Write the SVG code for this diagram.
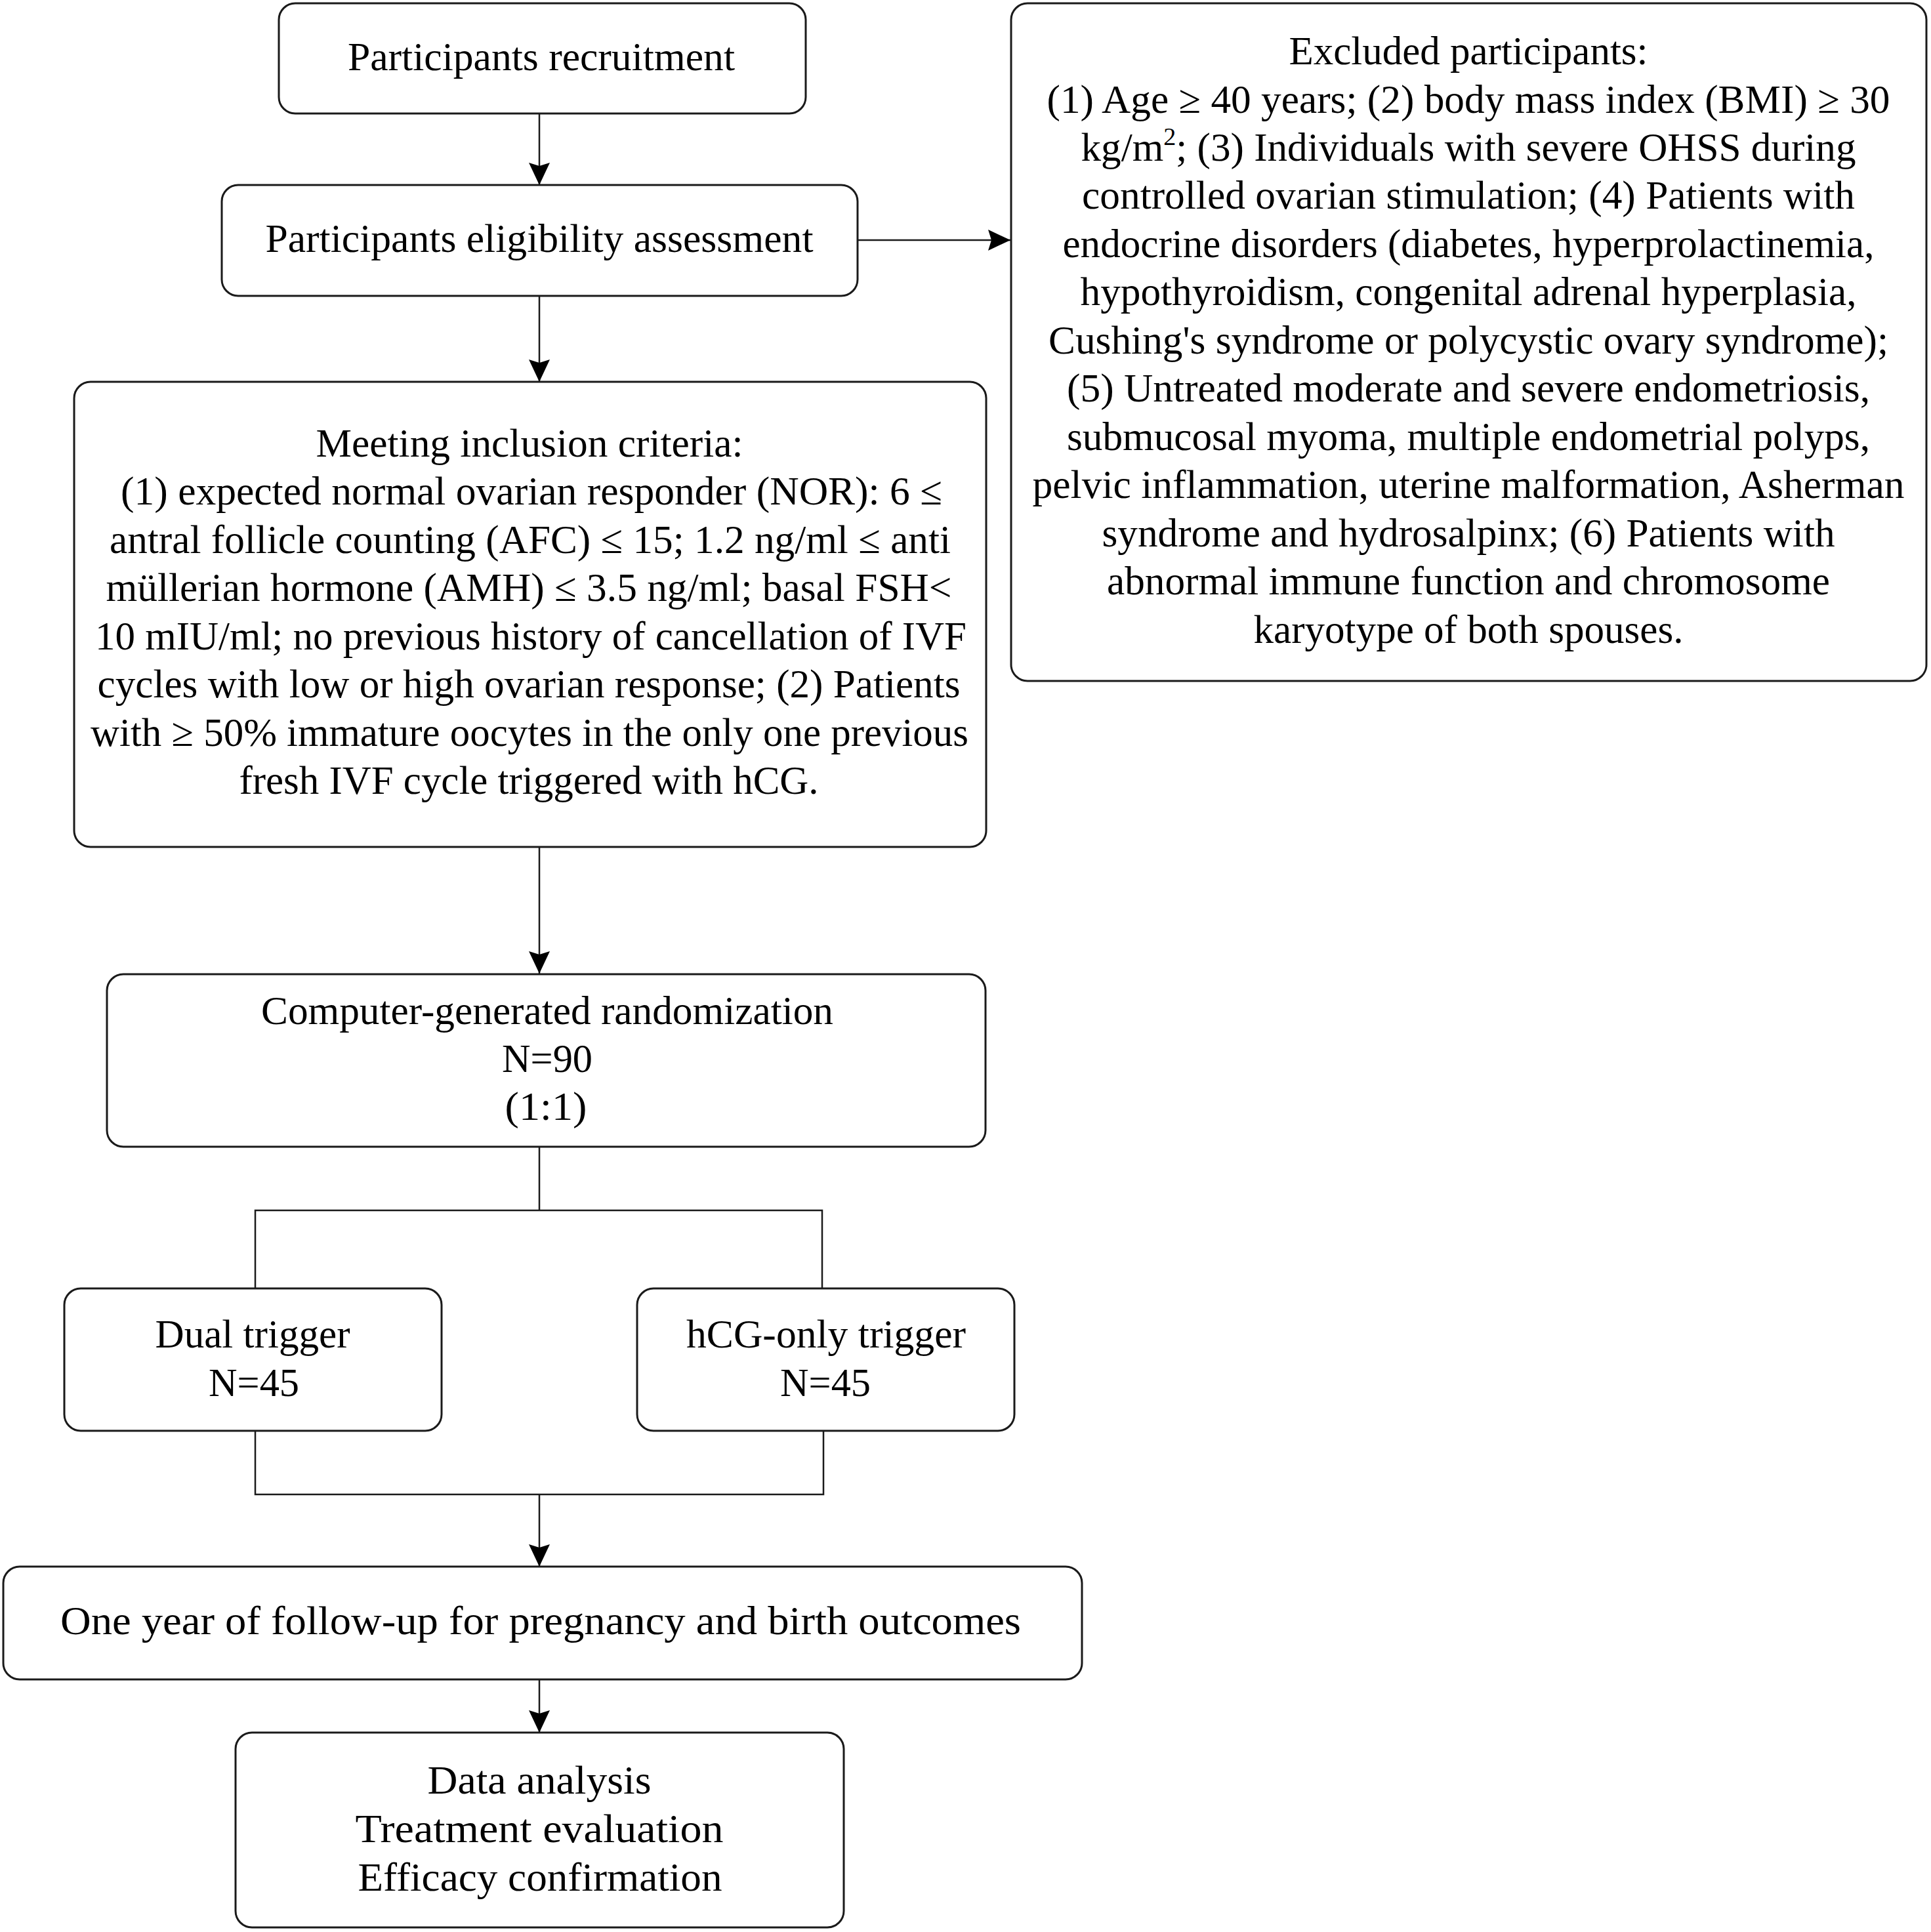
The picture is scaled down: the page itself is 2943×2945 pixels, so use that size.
<svg xmlns="http://www.w3.org/2000/svg" width="2943" height="2945" viewBox="0 0 2943 2945">
<style>
.box{fill:#fff;stroke:#1a1a1a;stroke-width:3}
.ln{fill:none;stroke:#1a1a1a;stroke-width:2.5}
text{font-family:"Liberation Serif","Times New Roman",serif;font-size:61px;fill:#000;text-anchor:middle}
.c{font-family:"Liberation Serif","DejaVu Serif",serif}
</style>
<defs>
<marker id="arr" markerUnits="userSpaceOnUse" viewBox="0 0 34 32" refX="34" refY="16" markerWidth="34" markerHeight="32" orient="auto">
<path d="M0,0 L34,16 L0,32 L5,16 Z" fill="#000"/>
</marker>
</defs>
<rect width="2943" height="2945" fill="#fff"/>
<g id="connectors">
<line class="ln" x1="822" y1="173" x2="822" y2="282" marker-end="url(#arr)"/>
<line class="ln" x1="1307" y1="366" x2="1540" y2="366" marker-end="url(#arr)"/>
<line class="ln" x1="822" y1="451" x2="822" y2="582" marker-end="url(#arr)"/>
<line class="ln" x1="822" y1="1291" x2="822" y2="1484" marker-end="url(#arr)"/>
<polyline class="ln" points="822,1748 822,1845"/>
<polyline class="ln" points="389,1964 389,1845 1253,1845 1253,1964"/>
<polyline class="ln" points="389,2181 389,2278 1255,2278 1255,2181"/>
<line class="ln" x1="822" y1="2278" x2="822" y2="2388" marker-end="url(#arr)"/>
<line class="ln" x1="822" y1="2560" x2="822" y2="2641" marker-end="url(#arr)"/>
</g>
<g id="recruitment">
<rect class="box" x="425" y="5" width="803" height="168" rx="25"/>
<text x="825" y="107" textLength="590" lengthAdjust="spacingAndGlyphs">Participants recruitment</text>
</g>
<g id="eligibility">
<rect class="box" x="338" y="282" width="969" height="169" rx="25"/>
<text x="822" y="384" textLength="835" lengthAdjust="spacingAndGlyphs">Participants eligibility assessment</text>
</g>
<g id="excluded">
<rect class="box" x="1541" y="5" width="1395" height="1033" rx="25"/>
<text x="2238" y="98" textLength="547" lengthAdjust="spacingAndGlyphs">Excluded participants:</text>
<text x="2238" y="172" textLength="1285" lengthAdjust="spacingAndGlyphs">(1) Age ≥ 40 years; (2) body mass index (BMI) ≥ 30</text>
<text x="2238" y="245" textLength="1181" lengthAdjust="spacingAndGlyphs">kg/m<tspan font-size="38" dy="-24">2</tspan><tspan dy="24">; (3) Individuals with severe OHSS during</tspan></text>
<text x="2238" y="318" textLength="1178" lengthAdjust="spacingAndGlyphs">controlled ovarian stimulation; (4) Patients with</text>
<text x="2238" y="392" textLength="1237" lengthAdjust="spacingAndGlyphs">endocrine disorders (diabetes, hyperprolactinemia,</text>
<text x="2238" y="465" textLength="1183" lengthAdjust="spacingAndGlyphs">hypothyroidism, congenital adrenal hyperplasia,</text>
<text x="2238" y="539" textLength="1280" lengthAdjust="spacingAndGlyphs">Cushing's syndrome or polycystic ovary syndrome);</text>
<text x="2238" y="612" textLength="1224" lengthAdjust="spacingAndGlyphs">(5) Untreated moderate and severe endometriosis,</text>
<text x="2238" y="686" textLength="1224" lengthAdjust="spacingAndGlyphs">submucosal myoma, multiple endometrial polyps,</text>
<text x="2238" y="759" textLength="1329" lengthAdjust="spacingAndGlyphs">pelvic inflammation, uterine malformation, Asherman</text>
<text x="2238" y="833" textLength="1117" lengthAdjust="spacingAndGlyphs">syndrome and hydrosalpinx; (6) Patients with</text>
<text x="2238" y="906" textLength="1102" lengthAdjust="spacingAndGlyphs">abnormal immune function and chromosome</text>
<text x="2238" y="980" textLength="655" lengthAdjust="spacingAndGlyphs">karyotype of both spouses.</text>
</g>
<g id="inclusion">
<rect class="box" x="113" y="582" width="1390" height="709" rx="25"/>
<text x="807" y="696" textLength="651" lengthAdjust="spacingAndGlyphs">Meeting inclusion criteria:</text>
<text x="810" y="769" textLength="1252" lengthAdjust="spacingAndGlyphs">(1) expected normal ovarian responder (NOR): 6 ≤</text>
<text x="808" y="843" textLength="1282" lengthAdjust="spacingAndGlyphs">antral follicle counting (AFC) ≤ 15; 1.2 ng/ml ≤ anti</text>
<text x="806" y="916" textLength="1289" lengthAdjust="spacingAndGlyphs">müllerian hormone (AMH) ≤ 3.5 ng/ml; basal FSH&lt;</text>
<text x="809" y="990" textLength="1328" lengthAdjust="spacingAndGlyphs">10 mIU/ml; no previous history of cancellation of IVF</text>
<text x="806" y="1063" textLength="1315" lengthAdjust="spacingAndGlyphs">cycles with low or high ovarian response; (2) Patients</text>
<text x="807" y="1137" textLength="1338" lengthAdjust="spacingAndGlyphs">with ≥ 50% immature oocytes in the only one previous</text>
<text x="806" y="1210" textLength="883" lengthAdjust="spacingAndGlyphs">fresh IVF cycle triggered with hCG.</text>
</g>
<g id="randomization">
<rect class="box" x="163" y="1485" width="1339" height="263" rx="25"/>
<text x="834" y="1561" textLength="872" lengthAdjust="spacingAndGlyphs">Computer-generated randomization</text>
<text x="834" y="1634" textLength="138" lengthAdjust="spacingAndGlyphs">N=90</text>
<text x="832" y="1707" textLength="125" lengthAdjust="spacingAndGlyphs">(1:1)</text>
</g>
<g id="dual">
<rect class="box" x="98" y="1964" width="575" height="217" rx="25"/>
<text x="385" y="2054" textLength="297" lengthAdjust="spacingAndGlyphs">Dual trigger</text>
<text x="387" y="2128" textLength="138" lengthAdjust="spacingAndGlyphs">N=45</text>
</g>
<g id="hcg">
<rect class="box" x="971" y="1964" width="575" height="217" rx="25"/>
<text x="1259" y="2054" textLength="426" lengthAdjust="spacingAndGlyphs">hCG-only trigger</text>
<text x="1258" y="2128" textLength="138" lengthAdjust="spacingAndGlyphs">N=45</text>
</g>
<g id="followup">
<rect class="box" x="5" y="2388" width="1644" height="172" rx="25"/>
<text class="c" x="824" y="2491" textLength="1464" lengthAdjust="spacingAndGlyphs">One year of follow-up for pregnancy and birth outcomes</text>
</g>
<g id="analysis">
<rect class="box" x="359" y="2641" width="927" height="297" rx="25"/>
<text class="c" x="822" y="2734" textLength="341" lengthAdjust="spacingAndGlyphs">Data analysis</text>
<text class="c" x="822" y="2808" textLength="561" lengthAdjust="spacingAndGlyphs">Treatment evaluation</text>
<text class="c" x="823" y="2882" textLength="555" lengthAdjust="spacingAndGlyphs">Efficacy confirmation</text>
</g>
</svg>
